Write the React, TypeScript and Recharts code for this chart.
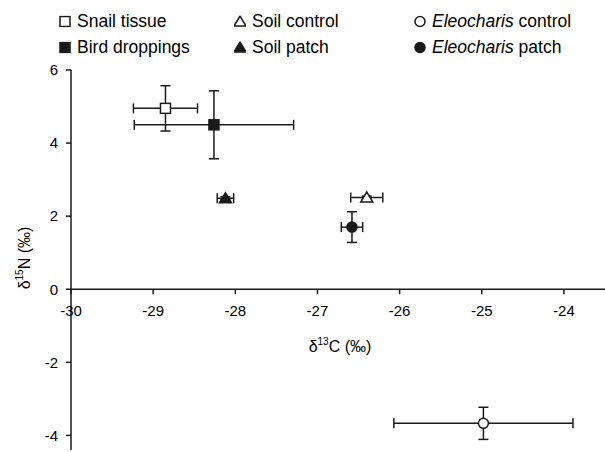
import React from 'react';
import { ScatterChart, Scatter, XAxis, YAxis, ErrorBar, ReferenceLine } from 'recharts';

// isotope means with error (x = d13C, y = d15N)
const SERIES = ['Snail tissue', 'Bird droppings', 'Soil control', 'Soil patch', 'Eleocharis control', 'Eleocharis patch'];
const D13C = [-28.85, -28.26, -26.4, -28.12, -24.98, -26.58];
const D15N = [4.95, 4.5, 2.51, 2.49, -3.67, 1.7];
const ERR_C = [0.39, 0.97, 0.195, 0.1, 1.09, 0.13];
const ERR_N = [0.62, 0.93, 0.04, 0.04, 0.44, 0.42];

const X_TICKS = [-30, -29, -28, -27, -26, -25, -24];
const Y_TICKS = [-4, -2, 0, 2, 4, 6];

const FONT = '"Liberation Sans", Arial, sans-serif';
const INK = '#1a1a1a';

const W = 605;
const H = 452;
const PLOT_TOP = 70;
const PLOT_BOTTOM = 450;
const Y_MIN = -4.4;
const Y_MAX = 6;
const ZERO_Y = PLOT_TOP + ((PLOT_BOTTOM - PLOT_TOP) * Y_MAX) / (Y_MAX - Y_MIN);

type Kind = 'square' | 'triangle' | 'circle';
const KINDS: Kind[] = ['square', 'square', 'triangle', 'triangle', 'circle', 'circle'];
const FILLED = [false, true, false, true, false, true];

const Marker = ({ cx, cy, kind, filled }: { cx: number; cy: number; kind: Kind; filled: boolean }) => {
  const fill = filled ? INK : '#fff';
  if (kind === 'square') {
    return <rect x={cx - 5} y={cy - 5} width={10} height={10} fill={fill} stroke={INK} strokeWidth={1.5} />;
  }
  if (kind === 'triangle') {
    return (
      <polygon
        points={`${cx - 6},${cy + 4.5} ${cx + 6},${cy + 4.5} ${cx},${cy - 5.5}`}
        fill={fill}
        stroke={INK}
        strokeWidth={1.5}
      />
    );
  }
  return <circle cx={cx} cy={cy} r={5} fill={fill} stroke={INK} strokeWidth={1.5} />;
};

// x axis crosses at y = 0, so ticks are drawn there
const XTick = (props: any) => {
  const { x, payload } = props;
  return (
    <g>
      <line x1={x} x2={x} y1={ZERO_Y} y2={ZERO_Y + 5} stroke={INK} strokeWidth={1.5} />
      <text x={x} y={ZERO_Y + 27} textAnchor="middle" fontSize={15} fontFamily={FONT} fill="#000">
        {payload.value}
      </text>
    </g>
  );
};

const LegendIcon = ({ kind, filled }: { kind: Kind; filled: boolean }) => (
  <svg width={12} height={12} style={{ marginRight: 6 }}>
    <Marker cx={6} cy={6} kind={kind} filled={filled} />
  </svg>
);

const legendPos = [
  { left: 59, top: 21 },
  { left: 59, top: 47 },
  { left: 234, top: 21 },
  { left: 234, top: 47 },
  { left: 414, top: 21 },
  { left: 414, top: 47 },
];

const App = () => {
  const series = SERIES.map((name, i) => ({
    name,
    data: [{ x: D13C[i], y: D15N[i], ex: ERR_C[i], ey: ERR_N[i] }],
  }));

  return (
    <div style={{ position: 'absolute', left: 0, top: 0, width: W, height: H, background: '#fff', fontFamily: FONT }}>
      <ScatterChart width={W} height={H} margin={{ top: PLOT_TOP, right: 0, bottom: 0, left: 0 }}>
        <XAxis
          type="number"
          dataKey="x"
          domain={[-30, -23.5]}
          ticks={X_TICKS}
          interval={0}
          height={H - PLOT_BOTTOM}
          axisLine={false}
          tickLine={false}
          tick={<XTick />}
          allowDataOverflow
        />
        <YAxis
          type="number"
          dataKey="y"
          domain={[Y_MIN, Y_MAX]}
          ticks={Y_TICKS}
          interval={0}
          width={71}
          tickSize={5}
          tickMargin={8}
          axisLine={{ stroke: INK, strokeWidth: 1.5 }}
          tickLine={{ stroke: INK, strokeWidth: 1.5 }}
          tick={{ fontSize: 15, fill: '#000', fontFamily: FONT }}
          allowDataOverflow
        />
        <ReferenceLine y={0} stroke={INK} strokeWidth={1.5} />
        {series.map((s, i) => (
          <Scatter
            key={s.name}
            name={s.name}
            data={s.data}
            isAnimationActive={false}
            shape={(p: any) => <Marker cx={p.cx} cy={p.cy} kind={KINDS[i]} filled={FILLED[i]} />}
          >
            <ErrorBar dataKey="ex" direction="x" width={5} stroke={INK} strokeWidth={1.5} />
            <ErrorBar dataKey="ey" direction="y" width={5} stroke={INK} strokeWidth={1.5} />
          </Scatter>
        ))}
      </ScatterChart>

      {/* axis titles */}
      <div
        style={{
          position: 'absolute',
          left: 340,
          top: 346,
          transform: 'translate(-50%, -50%)',
          whiteSpace: 'nowrap',
          fontSize: 16,
        }}
      >
        δ<sup style={{ fontSize: 10 }}>13</sup>C (‰)
      </div>
      <div
        style={{
          position: 'absolute',
          left: 24,
          top: 258,
          transform: 'translate(-50%, -50%) rotate(-90deg)',
          whiteSpace: 'nowrap',
          fontSize: 16,
        }}
      >
        δ<sup style={{ fontSize: 10 }}>15</sup>N (‰)
      </div>

      {/* legend */}
      {series.map((s, i) => (
        <div
          key={s.name}
          style={{
            position: 'absolute',
            left: legendPos[i].left,
            top: legendPos[i].top,
            transform: 'translateY(-50%)',
            display: 'flex',
            alignItems: 'center',
            fontSize: 17.5,
            whiteSpace: 'nowrap',
          }}
        >
          <LegendIcon kind={KINDS[i]} filled={FILLED[i]} />
          {s.name.startsWith('Eleocharis') ? (
            <span>
              <i>Eleocharis</i>
              {s.name.slice('Eleocharis'.length)}
            </span>
          ) : (
            <span>{s.name}</span>
          )}
        </div>
      ))}
    </div>
  );
};

export default App;
